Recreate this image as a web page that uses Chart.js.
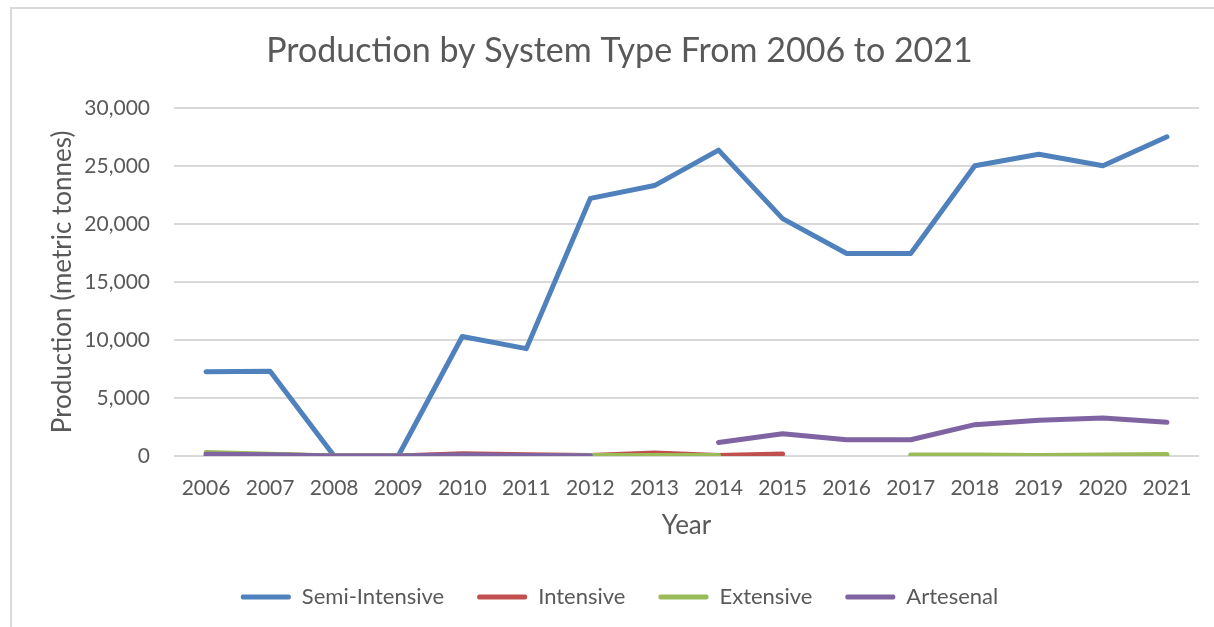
<!DOCTYPE html>
<html>
<head>
<meta charset="utf-8">
<script src="https://cdn.jsdelivr.net/npm/chart.js@4"></script>
<style>
    html, body {
        margin: 0;
        padding: 0;
        background: #ffffff;
    }
    #wrap {
        position: relative;
        width: 1214px;
        height: 627px;
    }
    /* light frame around the chart, as in the office export */
    #frame {
        position: absolute;
        left: 10px;
        top: 7px;
        width: 1220px;
        height: 640px;
        border-left: 2px solid #d9d9d9;
        border-top: 2px solid #d9d9d9;
        pointer-events: none;
    }
    canvas {
        position: absolute;
        left: 0;
        top: 0;
    }
</style>
</head>
<body>
<div id="wrap">
    <canvas id="productionChart" width="1214" height="627"></canvas>
    <div id="frame"></div>
</div>
<script>
const years = ['2006', '2007', '2008', '2009', '2010', '2011', '2012', '2013',
               '2014', '2015', '2016', '2017', '2018', '2019', '2020', '2021'];

// production in metric tonnes; null = no data reported that year
const semiIntensive = [7250, 7300, 0, 0, 10300, 9250, 22200, 23300,
                       26350, 20450, 17450, 17450, 25000, 26000, 25000, 27500];
const intensive = [0, 100, 0, 0, 200, 100, 50, 250,
                   50, 180, null, null, null, null, null, null];
const extensive = [300, 150, 0, 0, 50, 50, 50, 50,
                   50, null, null, 80, 80, 50, 80, 130];
const artesenal = [150, 100, 0, 0, 100, 50, 30, null,
                   1170, 1920, 1400, 1400, 2700, 3070, 3270, 2900];

const yTicks = [0, 5000, 10000, 15000, 20000, 25000, 30000];

const textColor = '#595959';
const gridColor = '#d9d9d9';
const fontFamily = 'Lato, "Open Sans", sans-serif';

function series(label, data, color, order) {
    return {
        label: label,
        data: data,
        borderColor: color,
        backgroundColor: color,
        borderWidth: 5,
        borderCapStyle: 'round',
        borderJoinStyle: 'round',
        pointRadius: 0,
        pointHoverRadius: 0,
        tension: 0,
        spanGaps: false,
        order: order // later series sit on top
    };
}

function initProductionChart() {
    const ctx = document.getElementById('productionChart')?.getContext('2d');
    if (!ctx) {
        console.error('Production chart canvas not found.');
        return;
    }

    new Chart(ctx, {
        type: 'line',
        data: {
            labels: years,
            datasets: [
                series('Semi-Intensive', semiIntensive, '#4f81bd', 4),
                series('Intensive', intensive, '#c0504d', 3),
                series('Extensive', extensive, '#9bbb59', 2),
                series('Artesenal', artesenal, '#8064a2', 1)
            ]
        },
        options: {
            responsive: false,
            animation: false,
            devicePixelRatio: 1,
            layout: {
                // left padding pushes title and legend centre to the right
                padding: { left: 40, right: 15, top: 0, bottom: 9 }
            },
            scales: {
                x: {
                    offset: true,
                    grid: { display: false, drawTicks: false },
                    border: { display: false },
                    ticks: {
                        color: textColor,
                        padding: 20,
                        maxRotation: 0,
                        autoSkip: false,
                        font: { family: fontFamily, size: 21 }
                    },
                    title: {
                        display: true,
                        text: 'Year',
                        color: textColor,
                        padding: { top: 0, bottom: 12 },
                        font: { family: fontFamily, size: 26 }
                    },
                    afterFit: (scale) => { scale.height = 97; }
                },
                y: {
                    min: 0,
                    max: 30000,
                    afterBuildTicks: (scale) => {
                        scale.ticks = yTicks.map(v => ({ value: v }));
                    },
                    grid: { color: gridColor, lineWidth: 2, drawTicks: false },
                    border: { display: false },
                    ticks: {
                        color: textColor,
                        padding: 24,
                        font: { family: fontFamily, size: 21 },
                        callback: (v) => v.toLocaleString('en-US')
                    },
                    title: {
                        display: true,
                        text: 'Production (metric tonnes)',
                        color: textColor,
                        padding: { top: 7, bottom: 0 },
                        font: { family: fontFamily, size: 26 }
                    },
                    afterFit: (scale) => { scale.width = 134; }
                }
            },
            plugins: {
                title: {
                    display: true,
                    text: 'Production by System Type From 2006 to 2021',
                    color: textColor,
                    font: { family: fontFamily, size: 34, weight: 'normal' },
                    padding: { top: 31, bottom: 36 }
                },
                legend: {
                    position: 'bottom',
                    labels: {
                        color: textColor,
                        font: { family: fontFamily, size: 22 },
                        boxWidth: 50,
                        boxHeight: 5,
                        padding: 33,
                        useBorderRadius: true,
                        borderRadius: 2,
                        // keep legend in data order and draw plain filled bars
                        sort: (a, b) => a.datasetIndex - b.datasetIndex,
                        generateLabels: (chart) =>
                            Chart.defaults.plugins.legend.labels.generateLabels(chart)
                                .map(item => ({ ...item, lineWidth: 0 }))
                    }
                },
                tooltip: { enabled: false }
            }
        }
    });
}

initProductionChart();
</script>
</body>
</html>
